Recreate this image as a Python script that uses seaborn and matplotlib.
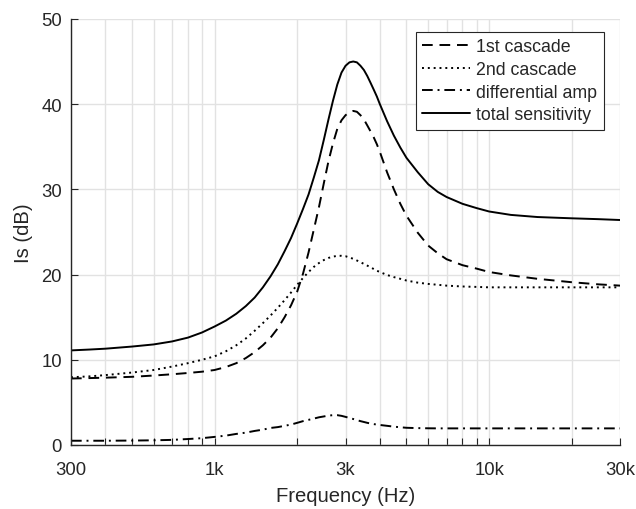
import numpy as np
import pandas as pd
import matplotlib
matplotlib.use("Agg")
import matplotlib.pyplot as plt
import seaborn as sns
from matplotlib.ticker import FixedLocator, FixedFormatter, LogLocator, NullFormatter

# ---- data ----
freq = [300, 350, 400, 500, 600, 700, 800, 900,
        1000, 1100, 1200, 1300, 1400, 1500, 1600, 1700, 1800, 1900,
        2000, 2100, 2200, 2300, 2400, 2500, 2600, 2700, 2800, 2900,
        3000, 3100, 3200, 3300, 3400, 3500, 3600, 3700, 3800, 3900, 4000,
        4250, 4500, 4750, 5000, 5500, 6000, 6500, 7000,
        8000, 9000, 10000, 12000, 15000, 20000, 25000, 30000]

first_cascade = [7.8, 7.85, 7.9, 8.0, 8.15, 8.3, 8.45, 8.6,
                 8.8, 9.15, 9.6, 10.2, 10.9, 11.7, 12.6, 13.7, 15.0, 16.4,
                 18.0, 20.1, 22.6, 25.3, 27.9, 30.7, 33.3, 35.4, 37.1, 38.1,
                 38.7, 39.05, 39.2, 39.1, 38.7, 38.2, 37.5, 36.8, 36.1, 35.3, 34.4,
                 32.0, 30.0, 28.3, 26.9, 24.9, 23.4, 22.5, 21.8,
                 21.1, 20.7, 20.3, 19.9, 19.5, 19.1, 18.85, 18.7]

second_cascade = [7.95, 8.05, 8.2, 8.5, 8.8, 9.2, 9.6, 10.0,
                  10.4, 11.0, 11.7, 12.5, 13.4, 14.3, 15.2, 16.1, 17.0, 17.9,
                  18.8, 19.6, 20.3, 20.9, 21.35, 21.7, 21.95, 22.1, 22.2, 22.2,
                  22.15, 22.0, 21.85, 21.65, 21.45, 21.25, 21.05, 20.85, 20.65, 20.45, 20.3,
                  19.95, 19.7, 19.5, 19.3, 19.05, 18.9, 18.8, 18.7,
                  18.6, 18.55, 18.5, 18.5, 18.5, 18.5, 18.5, 18.5]

diff_amp = [0.5, 0.5, 0.5, 0.52, 0.55, 0.6, 0.7, 0.8,
            0.95, 1.1, 1.3, 1.45, 1.65, 1.8, 2.0, 2.1, 2.25, 2.4,
            2.6, 2.8, 2.95, 3.1, 3.25, 3.35, 3.45, 3.5, 3.5, 3.42,
            3.3, 3.17, 3.05, 2.92, 2.8, 2.7, 2.6, 2.52, 2.45, 2.4, 2.35,
            2.25, 2.15, 2.08, 2.02, 1.98, 1.96, 1.95, 1.95,
            1.95, 1.95, 1.95, 1.95, 1.95, 1.95, 1.95, 1.95]

total = [11.1, 11.2, 11.3, 11.55, 11.8, 12.15, 12.6, 13.2,
         13.9, 14.6, 15.4, 16.3, 17.3, 18.5, 19.8, 21.2, 22.75, 24.3,
         26.0, 27.7, 29.4, 31.4, 33.4, 35.8, 38.2, 40.4, 42.3, 43.7,
         44.5, 44.9, 45.0, 44.9, 44.5, 44.0, 43.3, 42.5, 41.7, 40.9, 40.0,
         38.0, 36.3, 34.9, 33.7, 32.0, 30.6, 29.7, 29.1,
         28.3, 27.8, 27.4, 27.0, 26.75, 26.6, 26.5, 26.4]

series_names = ["1st cascade", "2nd cascade", "differential amp", "total sensitivity"]
xtick_values = [300, 1000, 3000, 10000, 30000]
xtick_labels = ["300", "1k", "3k", "10k", "30k"]
ytick_values = [0, 10, 20, 30, 40, 50]

# ---- figure ----
sns.set_style("white")
plt.rcParams["font.family"] = ["Liberation Sans", "DejaVu Sans"]

fig = plt.figure(figsize=(6.36, 5.10), dpi=100)
ax = fig.add_axes([0.1116, 0.1255, 0.975 - 0.1116, 0.961 - 0.1255])

all_vals = [first_cascade, second_cascade, diff_amp, total]
df = pd.DataFrame({"freq": freq * 4,
                   "value": sum(all_vals, []),
                   "series": sum([[n] * len(freq) for n in series_names], [])})

styles = {
    "1st cascade": (0, (5.5, 3.5)),
    "2nd cascade": (0, (1, 2.0)),
    "differential amp": (0, (5.5, 2.5, 1, 2.5)),
    "total sensitivity": "-",
}

for name in series_names:
    sub = df[df["series"] == name]
    sns.lineplot(data=sub, x="freq", y="value", ax=ax, color="black",
                 linewidth=1.4, label=name, linestyle=styles[name])

ax.set_xscale("log")
ax.set_xlim(300, 30000)
ax.set_ylim(0, 50)

ax.xaxis.set_major_locator(FixedLocator(xtick_values))
ax.xaxis.set_major_formatter(FixedFormatter(xtick_labels))
ax.xaxis.set_minor_locator(LogLocator(base=10, subs=np.arange(2, 10)))
ax.xaxis.set_minor_formatter(NullFormatter())
ax.set_yticks(ytick_values)

ax.grid(True, which="both", axis="x", color="#e2e2e2", linewidth=1.0)
ax.grid(True, which="major", axis="y", color="#e2e2e2", linewidth=1.0)
ax.set_axisbelow(True)

for s in ["top", "right"]:
    ax.spines[s].set_visible(False)
for s in ["left", "bottom"]:
    ax.spines[s].set_color("#262626")
    ax.spines[s].set_linewidth(1.0)

ax.tick_params(axis="both", which="both", direction="in", length=5,
               width=0.8, color="#262626", labelcolor="#262626",
               labelsize=13.3, bottom=True, left=True)
ax.tick_params(axis="x", which="major", pad=11.5)
ax.tick_params(axis="y", which="major", pad=6.5)

ax.set_xlabel("Frequency (Hz)", fontsize=14.6, color="#262626", labelpad=6)
ax.set_ylabel("Is (dB)", fontsize=14.6, color="#262626", labelpad=6)

leg = ax.legend(loc="upper right", bbox_to_anchor=(0.97, 0.97),
                fontsize=12.8, frameon=True, fancybox=False,
                handlelength=2.7, handletextpad=0.35, labelspacing=0.33,
                borderpad=0.35, borderaxespad=0)
leg.get_frame().set_edgecolor("#262626")
leg.get_frame().set_linewidth(0.8)
leg.get_frame().set_facecolor("white")
leg.get_frame().set_alpha(1)
for t in leg.get_texts():
    t.set_color("#262626")

fig.savefig("out.png", dpi=100)
